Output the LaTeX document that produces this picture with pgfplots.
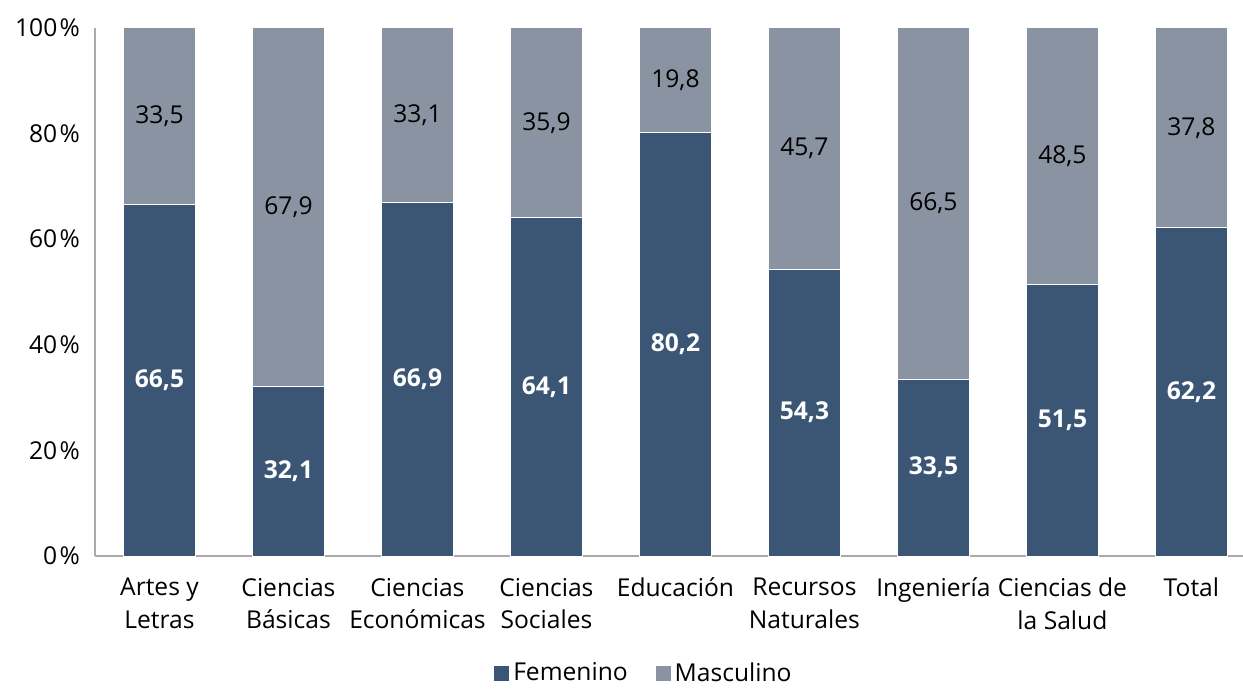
\documentclass[border=0pt]{standalone}
\usepackage{pgfplots}
\pgfplotsset{compat=1.18}
\usepackage{pgfplotstable}
\usepackage{fontspec}
\setmainfont{Open Sans}
\definecolor{fem}{RGB}{59,86,117}
\definecolor{mas}{RGB}{138,147,161}
\definecolor{axisgray}{RGB}{170,170,170}
\newcommand\lbl{\fontsize{12.3bp}{16.2bp}\selectfont}
\pgfplotsset{/pgf/number format/assume math mode=true}
\pgfplotstableread{
x f m
0 66.5 33.5
1 32.1 67.9
2 66.9 33.1
3 64.1 35.9
4 80.2 19.8
5 54.3 45.7
6 33.5 66.5
7 51.5 48.5
8 62.2 37.8
}\data
\begin{document}
\begin{tikzpicture}
\useasboundingbox (-47.5bp,-67bp) rectangle (574bp,278bp);
\begin{axis}[
  scale only axis, width=574bp, height=264bp,
  ybar stacked, bar width=36bp,
  xmin=-0.5, xmax=8.4, ymin=0, ymax=100,
  axis x line*=bottom, axis y line*=left,
  axis line style={axisgray, line width=0.8bp, -},
  major tick length=0pt,
  xtick={0,...,8},
  xticklabels={{Artes y\\Letras},{Ciencias\\Básicas},{Ciencias\\Económicas},{Ciencias\\Sociales},{Educación},{Recursos\\Naturales},{Ingeniería},{Ciencias de\\la Salud},{Total}},
  xticklabel style={align=center, font=\lbl, yshift=-7.5bp},
  ytick={0,20,...,100},
  yticklabel={\pgfmathprintnumber{\tick}\kern1.2bp\%},
  yticklabel style={font=\lbl, xshift=-4bp},
  legend style={at={(0.479,-0.222)}, anchor=center, draw=none, legend columns=2, font=\lbl,
    inner sep=1bp,
    /tikz/every even column/.append style={column sep=12bp}},
]
\addplot[fill=fem, draw=white, line width=0.5bp,
  legend image code/.code={\fill[fem] (-3bp,-3.5bp) rectangle (4bp,3.5bp);}]
  table[x=x, y=f]{\data};
\addlegendentry{Femenino}
\addplot[fill=mas, draw=white, line width=0.5bp,
  legend image code/.code={\fill[mas] (-3bp,-3.5bp) rectangle (4bp,3.5bp);}]
  table[x=x, y=m]{\data};
\addlegendentry{Masculino}
\end{axis}
\begin{axis}[
  scale only axis, width=574bp, height=264bp,
  xmin=-0.5, xmax=8.4, ymin=0, ymax=100,
  hide axis,
  nodes near coords={\pgfmathprintnumber[fixed,fixed zerofill,precision=1,use comma]{\pgfplotspointmeta}},
]
\addplot[draw=none, mark=none, point meta=explicit,
  nodes near coords style={white, font=\lbl\bfseries, anchor=center}]
  table[x=x, y expr=\thisrow{f}/2, meta=f]{\data};
\addplot[draw=none, mark=none, point meta=explicit,
  nodes near coords style={black, font=\lbl, anchor=center}]
  table[x=x, y expr=\thisrow{f}+\thisrow{m}/2, meta=m]{\data};
\end{axis}
\end{tikzpicture}
\end{document}
